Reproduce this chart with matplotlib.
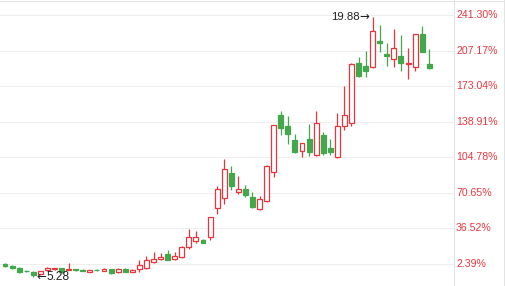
import matplotlib
matplotlib.use("Agg")
import matplotlib.pyplot as plt
from matplotlib.patches import Rectangle
from matplotlib.lines import Line2D
from matplotlib.transforms import blended_transform_factory, offset_copy
import numpy as np

# ---- data (prices) ----
opens = [5.99, 5.88, 5.75, 5.61, 5.56, 5.43, 5.65, 5.71, 5.77, 5.67,
         5.69, 5.67, 5.56, 5.67, 5.61, 5.69, 5.52, 5.71, 5.56, 5.73,
         5.75, 6.12, 6.25, 6.57, 6.25, 6.37, 6.93, 7.26, 7.34, 7.49,
         9.12, 9.68, 11.10, 10.01, 10.20, 9.75, 9.06, 9.53, 11.14, 14.35,
         13.74, 12.95, 12.32, 13.01, 12.08, 13.23, 12.50, 11.97, 13.74, 13.89,
         17.27, 17.10, 17.05, 18.51, 17.78, 17.48, 17.67, 17.20, 17.02, 18.90,
         17.24]
highs = [6.07, 5.93, 5.82, 5.65, 5.60, 5.62, 5.82, 5.77, 5.79, 6.03,
         5.73, 5.71, 5.67, 5.73, 5.75, 5.71, 5.78, 5.77, 5.71, 6.21,
         6.44, 6.66, 6.59, 6.78, 6.65, 7.00, 7.94, 7.83, 7.39, 8.63,
         10.37, 11.88, 11.49, 10.93, 10.42, 10.01, 9.81, 11.55, 13.80, 14.58,
         14.27, 13.29, 12.78, 13.85, 14.58, 13.42, 12.99, 14.49, 15.98, 17.25,
         17.63, 17.95, 19.88, 19.41, 18.38, 19.16, 18.84, 18.14, 18.92, 19.35,
         18.06]
lows = [5.82, 5.71, 5.49, 5.54, 5.28, 5.37, 5.60, 5.65, 5.51, 5.65,
        5.60, 5.57, 5.54, 5.58, 5.60, 5.43, 5.49, 5.54, 5.54, 5.52,
        5.71, 6.06, 6.21, 6.19, 6.21, 6.30, 6.83, 7.17, 7.15, 7.34,
        8.78, 9.34, 10.13, 9.92, 9.77, 9.15, 9.02, 9.45, 10.89, 13.23,
        12.73, 12.20, 12.02, 12.05, 12.05, 12.11, 12.11, 11.94, 13.51, 13.76,
        16.50, 16.50, 16.99, 17.87, 17.12, 17.06, 16.84, 16.36, 16.85, 17.90,
        16.92]
closes = [5.88, 5.77, 5.56, 5.58, 5.37, 5.60, 5.78, 5.75, 5.54, 5.73,
          5.65, 5.60, 5.65, 5.64, 5.71, 5.50, 5.69, 5.56, 5.65, 5.93,
          6.20, 6.27, 6.38, 6.23, 6.42, 6.93, 7.51, 7.49, 7.19, 8.61,
          10.18, 11.31, 10.39, 10.18, 9.88, 9.21, 9.62, 11.49, 13.78, 13.61,
          13.29, 12.29, 12.77, 12.29, 13.89, 12.20, 12.29, 13.74, 14.33, 17.20,
          16.55, 16.84, 19.07, 18.38, 17.69, 18.10, 17.29, 17.26, 18.90, 17.91,
          17.01]
base_price = 5.85
pct_ticks = [2.39, 36.52, 70.65, 104.78, 138.91, 173.04, 207.17, 241.30]

# ---- style ----
UP = "#e8343c"
DOWN = "#43a84c"
GRID = "#eeeeee"
EDGE = "#e3e3e3"
LABEL_RED = "#e8363e"
FONT = ["Liberation Sans", "DejaVu Sans"]

W, H, DPI = 506, 286, 100
fig = plt.figure(figsize=(W / DPI, H / DPI), dpi=DPI)
fig.patch.set_facecolor("white")
ax = fig.add_axes([0, 0, 454 / W, 1])
ax.set_facecolor("white")

n = len(opens)
ax.set_xlim(-0.71, 63.5)
ax.set_ylim(4.755, 20.808)

for s in ["left", "top", "bottom"]:
    ax.spines[s].set_visible(False)
ax.spines["right"].set_color(EDGE)
ax.spines["right"].set_linewidth(0.75)
ax.set_xticks([])
ax.set_yticks([])

tick_prices = [base_price * (1 + p / 100) for p in pct_ticks]
for tp in tick_prices:
    ax.axhline(tp, color=GRID, lw=0.75, zorder=0)

tr = blended_transform_factory(ax.transAxes, ax.transData)
for p, tp in zip(pct_ticks, tick_prices):
    ax.text(1.0045, tp, f"{p:.2f}%", transform=tr, ha="left", va="center",
            color=LABEL_RED, fontsize=7.6, family=FONT, clip_on=False)

bw = 0.70
min_h = 0.045
for i in range(n):
    o, h, l, c = opens[i], highs[i], lows[i], closes[i]
    up = c >= o
    col = UP if up else DOWN
    bot, top = min(o, c), max(o, c)
    if top - bot < min_h:
        mid = (top + bot) / 2
        bot, top = mid - min_h / 2, mid + min_h / 2
    ax.plot([i, i], [top, h], color=col, lw=0.9, zorder=2, solid_capstyle="butt")
    ax.plot([i, i], [l, bot], color=col, lw=0.9, zorder=2, solid_capstyle="butt")
    rect = Rectangle((i - bw / 2, bot), bw, top - bot,
                     facecolor="white" if up else col,
                     edgecolor=col, lw=0.9, zorder=3)
    ax.add_patch(rect)

# annotations for extreme values (number + arrow)
TXT = "#222222"
px = 72.0 / DPI  # points per pixel
hi_i = int(np.argmax(highs))
lo_i = int(np.argmin(lows))

t_hi_arrow = offset_copy(ax.transData, fig=fig, x=-3.5 * px, y=0, units="points")
ax.text(hi_i, highs[hi_i], "\u2192", transform=t_hi_arrow, ha="right", va="center",
        fontsize=8.5, color=TXT, family="DejaVu Sans", zorder=5)
t_hi_num = offset_copy(ax.transData, fig=fig, x=-13.0 * px, y=0, units="points")
ax.text(hi_i, highs[hi_i], f"{highs[hi_i]:.2f}", transform=t_hi_num, ha="right", va="center",
        fontsize=8.2, color=TXT, family=FONT, zorder=5)

t_lo_arrow = offset_copy(ax.transData, fig=fig, x=3.5 * px, y=0, units="points")
ax.text(lo_i, lows[lo_i], "\u2190", transform=t_lo_arrow, ha="left", va="center",
        fontsize=8.5, color=TXT, family="DejaVu Sans", zorder=5)
t_lo_num = offset_copy(ax.transData, fig=fig, x=13.0 * px, y=0, units="points")
ax.text(lo_i, lows[lo_i], f"{lows[lo_i]:.2f}", transform=t_lo_num, ha="left", va="center",
        fontsize=8.6, color=TXT, family=FONT, zorder=5)

# frame lines
fig.add_artist(Line2D([0, 505 / W], [1 - 1.0 / H, 1 - 1.0 / H], color=EDGE, lw=0.75))
fig.add_artist(Line2D([504.5 / W, 504.5 / W], [0, 1], color=EDGE, lw=0.75))

fig.savefig("out.png", dpi=DPI, facecolor="white")
